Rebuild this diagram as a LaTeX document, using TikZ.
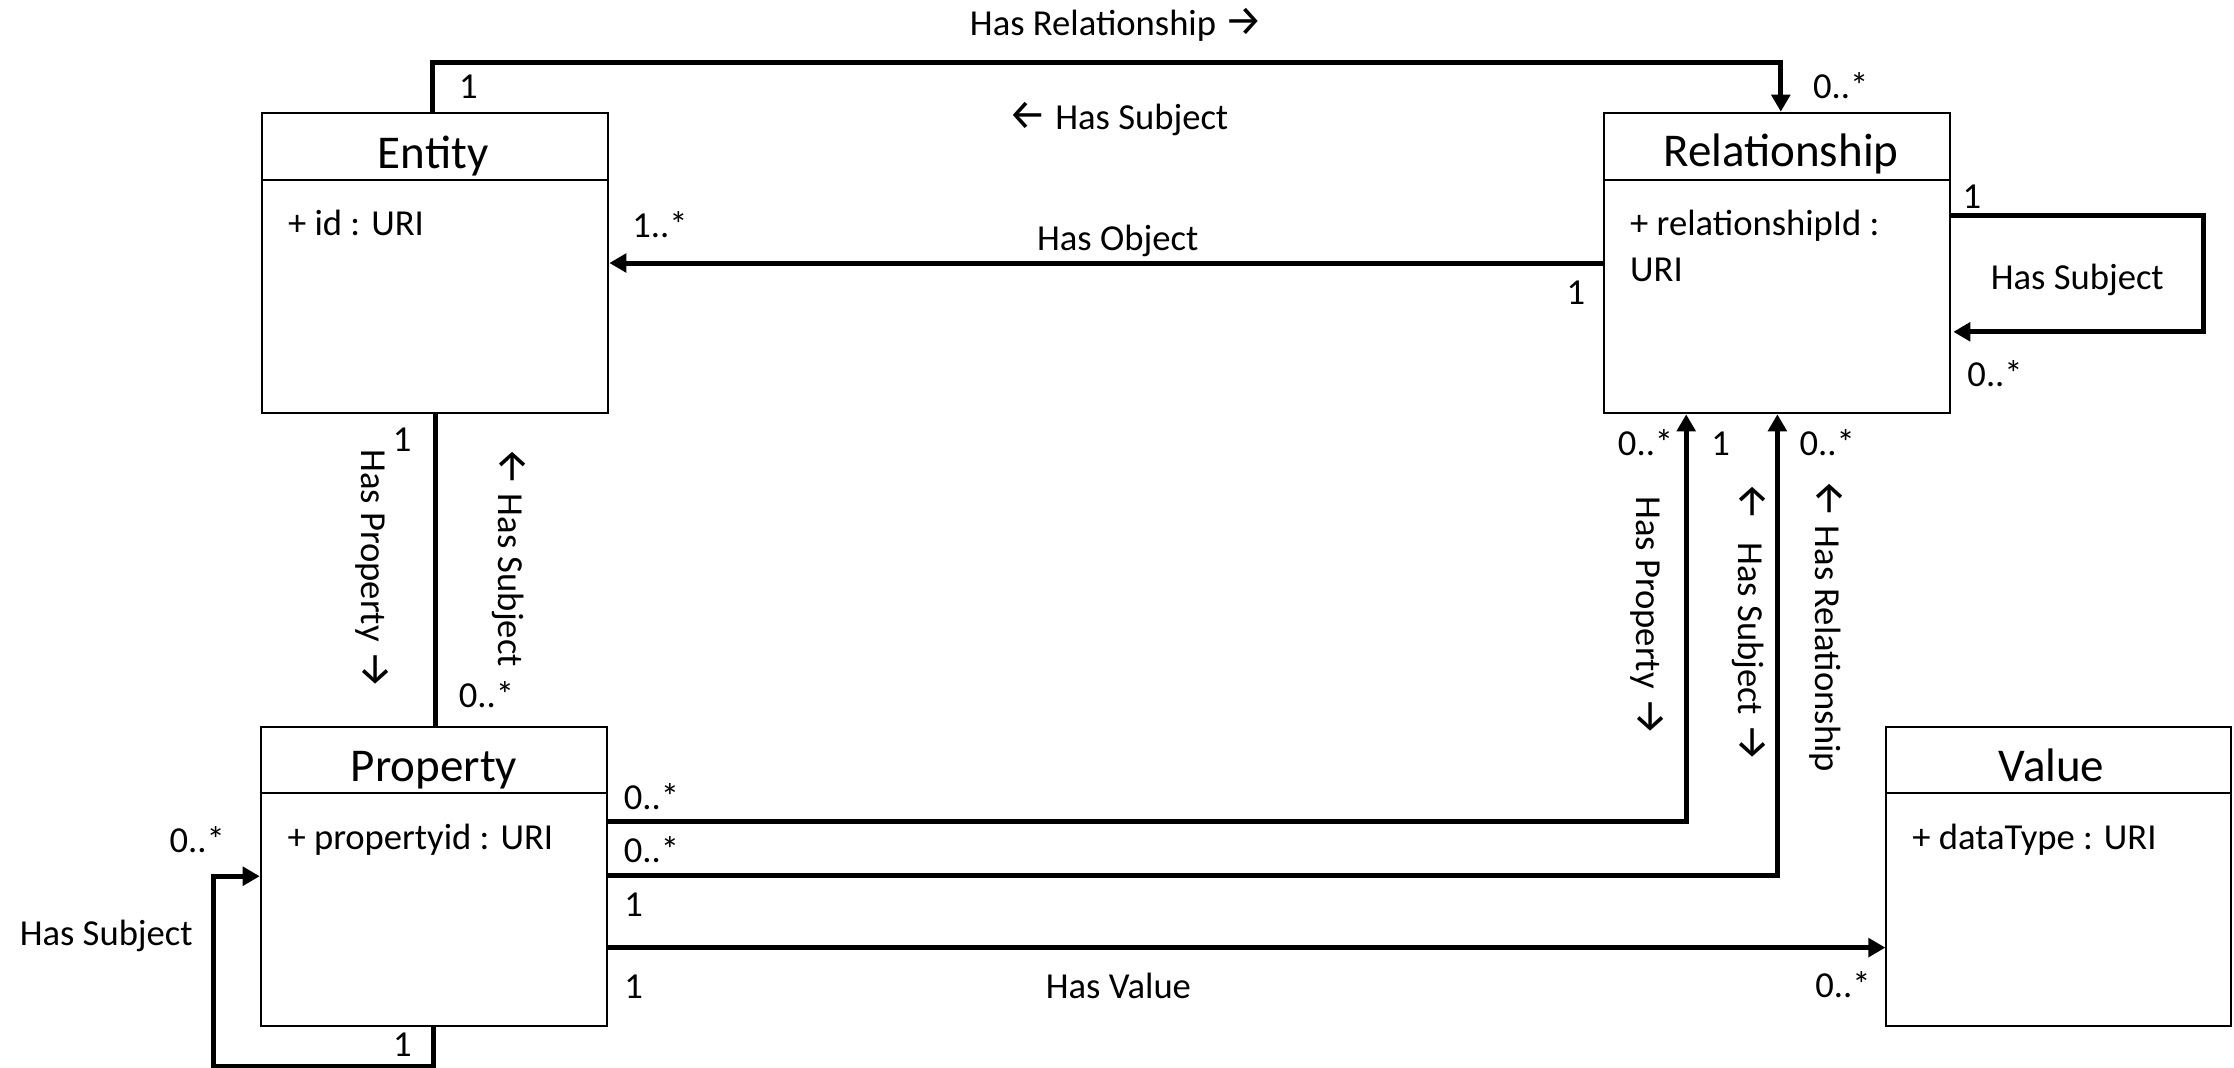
\documentclass[tikz,border=0pt]{standalone}
\usepackage{fontspec}
\usepackage{graphicx}
\setmainfont{Carlito}
\newfontfamily\arrowfont{Fira Sans}
\usetikzlibrary{arrows.meta,calc}
\newcommand{\myra}{{\arrowfont\fontsize{30}{30}\selectfont\char"2192}}
\newcommand{\myla}{{\arrowfont\fontsize{30}{30}\selectfont\char"2190}}
\begin{document}
\begin{tikzpicture}[x=1pt,y=-1pt,
  classbox/.style={draw, line width=1.4pt, minimum width=243pt, minimum height=211pt, inner sep=0pt},
  divider/.style={line width=1.4pt},
  conn/.style={line width=3.5pt},
  arr/.style={conn, -{Triangle[length=12pt,width=13pt]}},
  lbl/.style={font=\fontsize{25.7}{30}\selectfont, inner sep=0pt, anchor=base},
  lbll/.style={lbl, anchor=base west},
  vlbl/.style={lbl, rotate=-90, anchor=mid},
  title/.style={font=\fontsize{33}{38}\selectfont, inner sep=0pt, anchor=base},
]
\useasboundingbox (0,0) rectangle (1568,749.6);

% classes
\node[classbox] (entity) at (305.5,184.6) {};
\node[classbox, minimum width=242.8pt] (rel) at (1246.9,184.6) {};
\node[classbox, minimum height=210pt] (prop) at (304.5,615) {};
\node[classbox, minimum width=242pt, minimum height=210pt] (value) at (1445,615) {};

\draw[divider] ([yshift=-48pt]entity.north west) -- ([yshift=-48pt]entity.north east);
\draw[divider] ([yshift=-48pt]rel.north west) -- ([yshift=-48pt]rel.north east);
\draw[divider] ([yshift=-47.3pt]prop.north west) -- ([yshift=-47.3pt]prop.north east);
\draw[divider] ([yshift=-47.3pt]value.north west) -- ([yshift=-47.3pt]value.north east);

\node[title] (entityT) at (304,118) {Entity};
\node[title] (relT) at (1250,117) {Relationship};
\node[title] (propT) at (304.6,548.3) {Property};
\node[title] (valueT) at (1440,548.3) {Value};

\node[lbll] (entityA) at (202,165) {+ id : URI};
\node[lbll] (relA1) at (1144,165) {+ relationshipId :};
\node[lbll] (relA2) at (1144,197.7) {URI};
\node[lbll] (propA) at (201.6,596.3) {+ propertyid : URI};
\node[lbll] (valueA) at (1342,596.3) {+ dataType : URI};

% connectors
\draw[arr] ([xshift=-2pt]entity.north) -- ++(0,-34.5) -| ([xshift=3pt]rel.north);
\draw[arr] (rel.west) -- (entity.east);
\draw[arr] ([yshift=-73pt]rel.north east) -- ++(177.3,0) |- ([xshift=2pt,yshift=-154.5pt]rel.north east);
\draw[conn] (entity.south) -- (entity.south |- prop.north);
\draw[arr] ([yshift=-67.4pt]prop.north east) -| ([xshift=-63.4pt]rel.south);
\draw[arr] ([yshift=-104.9pt]prop.north east) -| ([xshift=0.6pt]rel.south);
\draw[arr] ([yshift=-155.8pt]prop.north east) -- ([yshift=-155.8pt]value.north west);
\draw[arr] (prop.south) -- ++(0,27.6) -| ($(prop.west)+(-32.5,0)$) -- (prop.west);

% labels top
\node[lbl] (lHasRel) at (783.6,24.6) {Has Relationship \myra};
\node[lbl] (lHasSubTop) at (785,90.8) {\myla{} Has Subject};
\node[lbl] (cE1) at (328.8,69) {1};
\node[lbl] (cR0) at (1292,69) {0..*};
\node[lbl] (cE1s) at (463.2,166.6) {1..*};
\node[lbl] (lHasObj) at (784.5,176) {Has Object};
\node[lbl] (cR1) at (1106,214) {1};
\node[lbl] (cRL1) at (1384,146) {1};
\node[lbl] (lRLoop) at (1458,203.5) {Has Subject};
\node[lbl] (cRL0) at (1400.3,271.4) {0..*};

% entity-property
\node[lbl] (cEP1) at (282.3,316.8) {1};
\node[vlbl] (lEP1) at (256,399.3) {Has Property \myra};
\node[vlbl] (lEP2) at (352,391) {\myla{} Has Subject};
\node[lbl] (cEP0) at (341.5,496.5) {0..*};

% property-relationship
\node[lbl] (cPR0a) at (1155,319.8) {0..*};
\node[lbl] (cPR1) at (1207.7,319.8) {1};
\node[lbl] (cPR0b) at (1282.5,319.8) {0..*};
\node[vlbl] (lPR1) at (1151,432.3) {Has Property \myra};
\node[vlbl] (lPR2) at (1222.9,436.8) {\myla\hspace{9pt} Has Subject \myra};
\node[vlbl] (lPR3) at (1276.8,439) {\myla{} Has Relationship};

\node[lbl] (cP0a) at (457.2,568.4) {0..*};
\node[lbl] (cP0b) at (457.2,605.3) {0..*};
\node[lbl] (cP1a) at (444.7,643.3) {1};
\node[lbl] (cP1b) at (444.7,701.1) {1};
\node[lbl] (lHasVal) at (785,700.9) {Has Value};
\node[lbl] (cV0) at (1293.5,700.2) {0..*};

% property self loop
\node[lbl] (cPL0) at (138.4,598.4) {0..*};
\node[lbl] (lPLoop) at (74.6,663.7) {Has Subject};
\node[lbl] (cPL1) at (282.5,741.6) {1};
\end{tikzpicture}
\end{document}
